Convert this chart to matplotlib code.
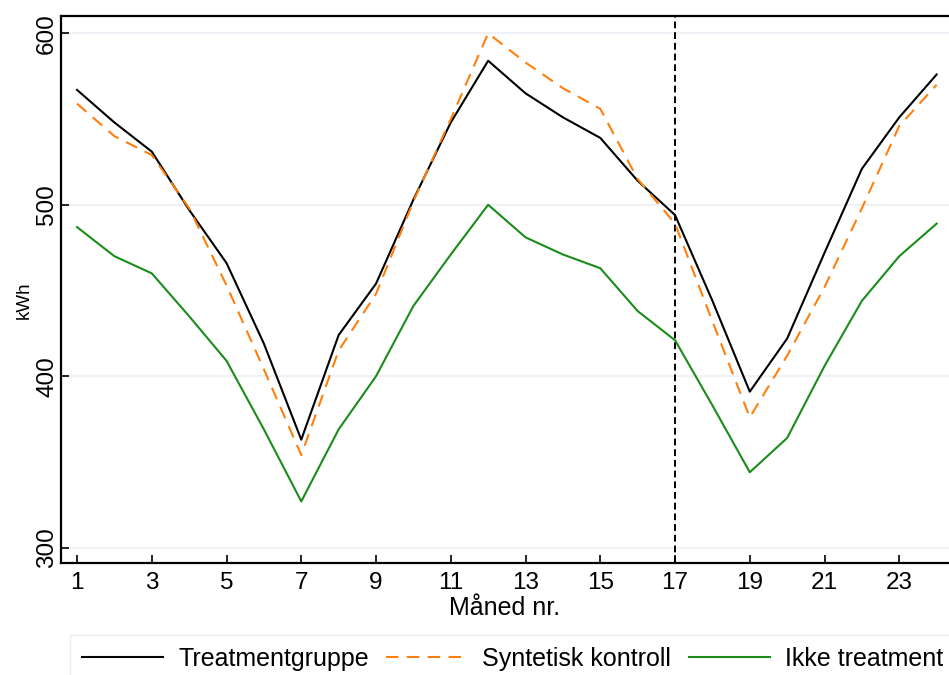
import matplotlib.pyplot as plt

# ---- data ----
maaned = list(range(1, 25))
treatment = [567, 548, 531, 497, 466, 419, 363, 424, 454, 503, 548, 584,
             565, 551, 539, 514, 494, 444, 391, 422, 472, 521, 551, 576]
syntetisk = [559, 540, 529, 498, 453, 404, 354, 415, 448, 502, 550, 600,
             583, 568, 556, 515, 489, 432, 376, 412, 452, 498, 546, 570]
ikke_treatment = [487, 470, 460, 435, 409, 369, 327, 369, 400, 441, 471, 500,
                  481, 471, 463, 438, 421, 383, 344, 364, 406, 444, 470, 489]
xticks = list(range(1, 24, 2))
yticks = [300, 400, 500, 600]
intervensjon = 17

plt.rcParams['font.family'] = ['Liberation Sans', 'DejaVu Sans']

fig = plt.figure(figsize=(9.49, 6.75), dpi=100)
ax = fig.add_axes([0.0643, 0.1655, 0.9357, 0.8108])

ax.grid(True, axis='y', color='#eef1f6', linewidth=1.5, zorder=0)
ax.axvline(intervensjon, color='black', linestyle=(0, (3.5, 2)), linewidth=1.4, zorder=2)

ax.plot(maaned, treatment, color='black', linewidth=1.5, label='Treatmentgruppe', zorder=3)
ax.plot(maaned, syntetisk, color='#ff7f0e', linewidth=1.5, linestyle=(0, (6, 4)),
        label='Syntetisk kontroll', zorder=3)
ax.plot(maaned, ikke_treatment, color='#1a8c1a', linewidth=1.5, label='Ikke treatment', zorder=3)

ax.set_xlim(0.572, 24.33)
ax.set_ylim(290.9, 610.1)
ax.set_xticks(xticks)
ax.set_yticks(yticks)
ax.tick_params(axis='both', direction='in', length=6, width=1.2, labelsize=17.5)
ax.tick_params(axis='x', pad=6)
ax.tick_params(axis='y', pad=2)
for lab in ax.get_yticklabels():
    lab.set_rotation(90)
    lab.set_va('center')

for side in ['left', 'bottom', 'top']:
    ax.spines[side].set_linewidth(1.6)
    ax.spines[side].set_color('black')
ax.spines['right'].set_visible(False)

ax.set_ylabel('kWh', fontsize=13.5)
ax.yaxis.set_label_coords(-0.0315, 0.481)
ax.set_xlabel('Måned nr.', fontsize=18)
ax.xaxis.set_label_coords(0.5, -0.060)

leg = fig.legend(loc='upper left', bbox_to_anchor=(0.0738, 0.0593), ncol=3,
                 fontsize=18, handlelength=3.24, handletextpad=0.6, columnspacing=0.7,
                 borderpad=0.48, borderaxespad=0, frameon=True, fancybox=False)
leg.get_frame().set_edgecolor('#e4e8ee')
leg.get_frame().set_linewidth(1.0)

fig.savefig('out.png', dpi=100)
